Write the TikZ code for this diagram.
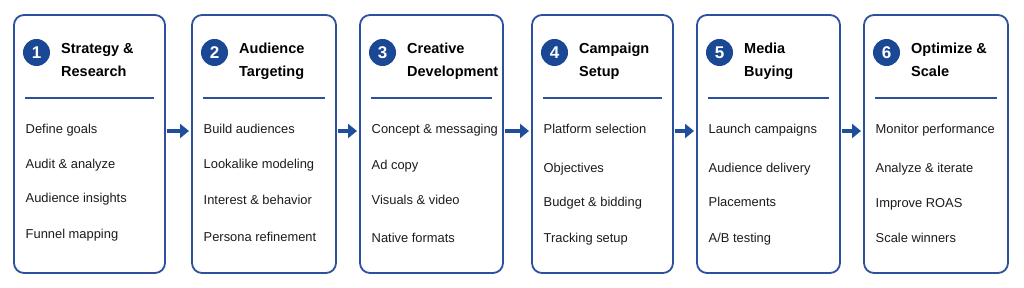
\documentclass[tikz,border=0pt]{standalone}
\usepackage{fontspec}
\setmainfont{Liberation Sans}
\usetikzlibrary{arrows.meta}
\definecolor{bordblue}{HTML}{2C4F9E}
\definecolor{numblue}{HTML}{1B4894}
\definecolor{arrblue}{HTML}{1F4E9C}
\definecolor{txtdark}{HTML}{1C1C1C}
\tikzset{
  stagebox/.style={draw=bordblue, line width=1.8pt, rounded corners=10pt, fill=white, inner sep=0pt, outer sep=0pt, rectangle},
  numdot/.style={circle, fill=numblue, text=white, minimum size=27pt, inner sep=0pt, font=\bfseries\fontsize{17}{17}\selectfont},
  titletext/.style={anchor=base west, inner sep=0pt, text=black, font=\bfseries\fontsize{14.5}{17}\selectfont},
  itemtext/.style={anchor=base west, inner sep=0pt, text=txtdark, font=\fontsize{12.9}{15}\selectfont},
  seprule/.style={draw=bordblue, line width=1.5pt},
  flowarrow/.style={draw=arrblue, line width=3.5pt, -{Triangle[length=9pt,width=14pt]}, shorten <=1.5pt, shorten >=3pt}
}
\begin{document}
\begin{tikzpicture}[x=1pt,y=-1pt]
\useasboundingbox (0,0) rectangle (1024,288);
\fill[white] (0,0) rectangle (1024,288);
\foreach \i/\l/\r/\ta/\tb/\ia/\ib/\ic/\id/\ya/\yb/\yc/\yd in {
  1/14/165/{Strategy \&}/{Research}/{Define goals}/{Audit \& analyze}/{Audience insights}/{Funnel mapping}/134/168.5/202.5/239,
  2/192/336/{Audience}/{Targeting}/{Build audiences}/{Lookalike modeling}/{Interest \& behavior}/{Persona refinement}/134/169/205/241.5,
  3/360/503/{Creative}/{Development}/{Concept \& messaging}/{Ad copy}/{Visuals \& video}/{Native formats}/134/170/205/242,
  4/532/673/{Campaign}/{Setup}/{Platform selection}/{Objectives}/{Budget \& bidding}/{Tracking setup}/134/173/207/243,
  5/697/840/{Media}/{Buying}/{Launch campaigns}/{Audience delivery}/{Placements}/{A/B testing}/134/173/207/243,
  6/864/1008/{Optimize \&}/{Scale}/{Monitor performance}/{Analyze \& iterate}/{Improve ROAS}/{Scale winners}/134/173/208/243}
{
  \node (b\i) [stagebox, minimum width={(\r-\l)*1pt}, minimum height=258pt] at ({(\l+\r)/2},144) {};
  \node (c\i) [numdot] at (\l+22.5,52.5) {\i};
  \node (ta\i) [titletext] at (\l+47,53.5) {\ta};
  \node (tb\i) [titletext] at (\l+47,77) {\tb};
  \draw[seprule] (\l+11,98) -- (\r-11,98);
  \node (ia\i) [itemtext] at (\l+11.5,\ya) {\ia};
  \node (ib\i) [itemtext] at (\l+11.5,\yb) {\ib};
  \node (ic\i) [itemtext] at (\l+11.5,\yc) {\ic};
  \node (id\i) [itemtext] at (\l+11.5,\yd) {\id};
}
\foreach \a/\b in {1/2,2/3,3/4,4/5,5/6}{
  \draw[flowarrow] ([yshift=13pt]b\a.east) -- ([yshift=13pt]b\b.west);
}
\end{tikzpicture}
\end{document}
